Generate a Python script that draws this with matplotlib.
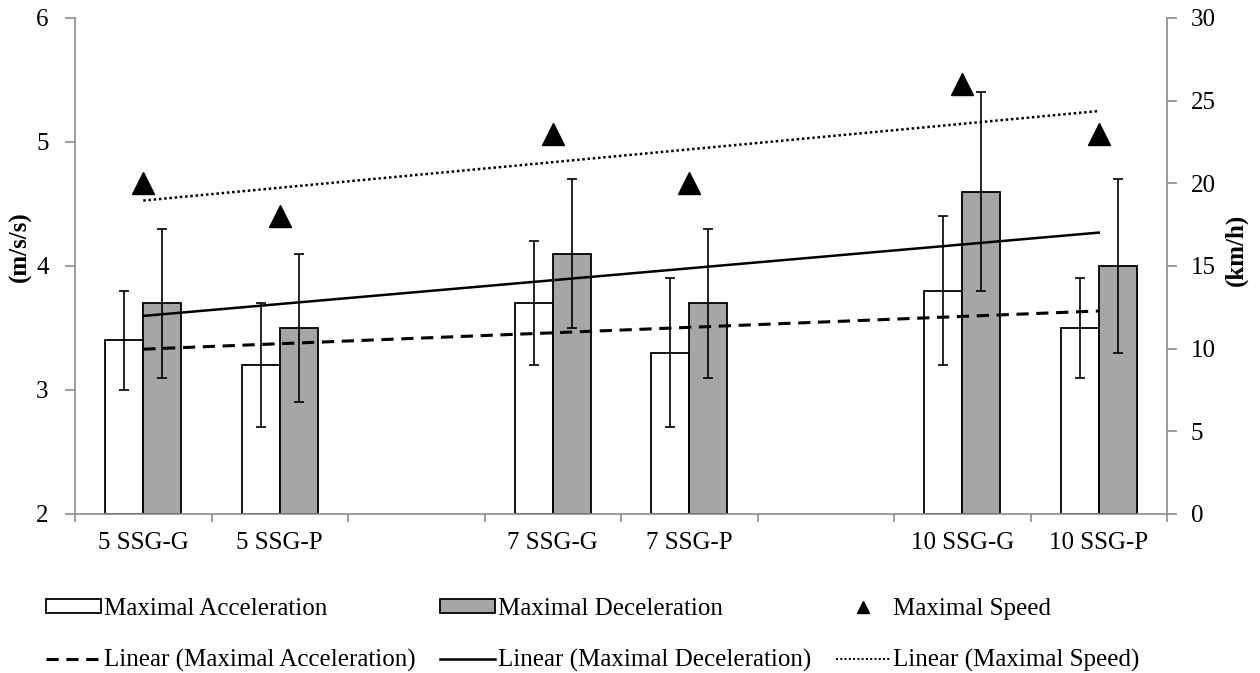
import numpy as np
import matplotlib
matplotlib.use("Agg")
import matplotlib.pyplot as plt
from matplotlib.patches import Patch
from matplotlib.lines import Line2D

plt.rcParams['font.family'] = ['Liberation Serif', 'DejaVu Serif']

categories = ["5 SSG-G", "5 SSG-P", "", "7 SSG-G", "7 SSG-P", "", "10 SSG-G", "10 SSG-P"]
accel = [3.4, 3.2, np.nan, 3.7, 3.3, np.nan, 3.8, 3.5]
accel_sd = [0.4, 0.5, np.nan, 0.5, 0.6, np.nan, 0.6, 0.4]
decel = [3.7, 3.5, np.nan, 4.1, 3.7, np.nan, 4.6, 4.0]
decel_sd = [0.6, 0.6, np.nan, 0.6, 0.6, np.nan, 0.8, 0.7]
speed = [20, 18, np.nan, 23, 20, np.nan, 26, 23]

left_ticks = [2, 3, 4, 5, 6]
right_ticks = [0, 5, 10, 15, 20, 25, 30]

FS = 18
GRAY = '#8c8c8c'
BARGRAY = '#a6a6a6'

fig = plt.figure(figsize=(12.6, 6.73), dpi=100)
ax = fig.add_axes([75/1260, 1-514/673, (1167-75)/1260, (514-18)/673])
ax2 = ax.twinx()

x = np.arange(1, len(categories) + 1)
accel_a = np.array(accel, float)
decel_a = np.array(decel, float)
speed_a = np.array(speed, float)
w = 0.28

ax.bar(x - w/2, accel_a - 2, width=w, bottom=2, color='white', edgecolor='black', linewidth=1.3, zorder=2)
ax.bar(x + w/2, decel_a - 2, width=w, bottom=2, color=BARGRAY, edgecolor='black', linewidth=1.3, zorder=2)
ax.errorbar(x - w/2, accel_a, yerr=np.array(accel_sd, float), fmt='none', ecolor='black',
            elinewidth=1.2, capsize=3.5, capthick=1.2, zorder=4)
ax.errorbar(x + w/2, decel_a, yerr=np.array(decel_sd, float), fmt='none', ecolor='black',
            elinewidth=1.2, capsize=3.5, capthick=1.2, zorder=4)

def trend(vals):
    m = ~np.isnan(vals)
    p = np.polyfit(x[m], vals[m], 1)
    xs = np.array([x[m][0], x[m][-1]], float)
    return xs, np.polyval(p, xs)

tx, ty = trend(accel_a)
ax.plot(tx, ty, color='black', lw=2.2, linestyle=(0, (4, 2.5)), zorder=3)
tx, ty = trend(decel_a)
ax.plot(tx, ty, color='black', lw=1.8, linestyle='-', zorder=3)

ax2.plot(x, speed_a, linestyle='none', marker='^', markersize=16, color='black', zorder=5)
tx, ty = trend(speed_a)
ax2.plot(tx, ty, color='black', lw=1.8, linestyle=(0, (1, 1.1)), zorder=3)

ax.set_xlim(0.5, len(categories) + 0.5)
ax.set_ylim(2, 6)
ax2.set_ylim(0, 30)
ax.set_yticks(left_ticks)
ax2.set_yticks(right_ticks)
ax.set_yticklabels([str(t) for t in left_ticks], fontsize=FS)
ax2.set_yticklabels([str(t) for t in right_ticks], fontsize=FS)

ax.set_xticks(np.arange(0.5, len(categories) + 1, 1.0))
ax.set_xticklabels([])
ax.set_xticks(x, minor=True)
ax.set_xticklabels(categories, minor=True, fontsize=FS)
ax.tick_params(axis='x', which='major', direction='out', length=6, color=GRAY, width=1.2)
ax.tick_params(axis='x', which='minor', length=0, pad=13)
ax.tick_params(axis='y', direction='out', length=7, color=GRAY, width=1.2, pad=12)
ax2.tick_params(axis='y', direction='out', length=7, color=GRAY, width=1.2, pad=10)

for a in (ax, ax2):
    a.spines['top'].set_visible(False)
    for s in ('left', 'right', 'bottom'):
        a.spines[s].set_color(GRAY)
        a.spines[s].set_linewidth(1.2)
ax.spines['right'].set_visible(False)
ax2.spines['left'].set_visible(False)
ax2.spines['bottom'].set_visible(False)

fig.text(20/1260, 1-247/673, "(m/s/s)", rotation=90, fontsize=FS, fontweight='bold',
         ha='center', va='center')
fig.text(1236/1260, 1-250/673, "(km/h)", rotation=90, fontsize=FS, fontweight='bold',
         ha='center', va='center')

handles = [
    Patch(facecolor='white', edgecolor='black', linewidth=1.3),
    Line2D([], [], color='black', lw=2.2, linestyle=(0, (4, 2.5))),
    Patch(facecolor=BARGRAY, edgecolor='black', linewidth=1.3),
    Line2D([], [], color='black', lw=1.8),
    Line2D([], [], color='black', marker='^', markersize=9, linestyle='none'),
    Line2D([], [], color='black', lw=1.4, linestyle=(0, (1, 1.2))),
]
labels = ["Maximal Acceleration", "Linear (Maximal Acceleration)",
          "Maximal Deceleration", "Linear (Maximal Deceleration)",
          "Maximal Speed", "Linear (Maximal Speed)"]
fig.legend(handles, labels, ncol=3, loc='upper left', bbox_to_anchor=(46/1260, 1-598/673),
           frameon=False, fontsize=FS, handlelength=2.2, handleheight=0.5,
           handletextpad=0.1, columnspacing=1.0, labelspacing=1.16, borderaxespad=0,
           borderpad=0)

fig.savefig("out.png", dpi=100)
